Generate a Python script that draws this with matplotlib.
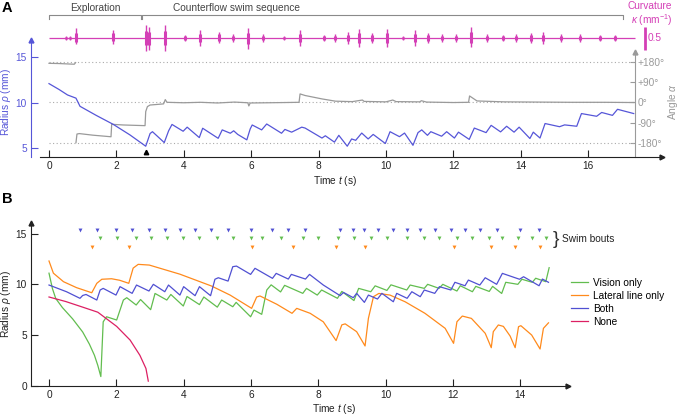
import numpy as np
import matplotlib
matplotlib.use('Agg')
import matplotlib.pyplot as plt

plt.rcParams['font.family'] = ['Liberation Sans', 'DejaVu Sans']
plt.rcParams['mathtext.fontset'] = 'custom'
plt.rcParams['mathtext.rm'] = 'Liberation Sans'
plt.rcParams['mathtext.it'] = 'Liberation Sans:italic'
plt.rcParams['mathtext.bf'] = 'Liberation Sans:bold'

# ---------------- DATA: panel A ----------------
A_t = [0, 0.3, 0.55, 0.8, 0.84, 0.92, 1.4, 1.91, 2.4, 2.87, 3.0, 3.07, 3.42, 3.55, 3.65, 3.98, 4.1,
       4.46, 4.56, 5.02, 5.14, 5.38, 5.48, 5.6, 5.87, 5.97, 6.03, 6.31, 6.46, 6.9, 7.0, 7.2, 7.5, 7.6,
       8.1, 8.2, 8.47, 8.6, 8.85, 8.98, 9.1, 9.28, 9.47, 9.62, 9.98, 10.12, 10.4, 10.55, 10.8, 10.95,
       11.06, 11.23, 11.33, 11.65, 11.8, 12.03, 12.15, 12.47, 12.62, 12.97, 13.12, 13.4, 13.58, 13.8,
       13.95, 14.27, 14.37, 14.57, 14.72, 15.15, 15.3, 15.66, 15.8, 16.25, 16.4, 16.72, 16.87, 17.35]
A_radius = [12.1, 11.45, 10.85, 10.5, 10.2, 9.6, 8.6, 7.6, 6.45, 5.2, 6.6, 6.8, 5.6, 6.9, 7.6, 6.85, 7.3,
            6.15, 7.18, 6.07, 7.0, 6.63, 6.9, 6.5, 5.9, 7.1, 7.54, 7.0, 7.65, 6.63, 7.05, 6.75, 7.3, 7.2,
            6.1, 6.35, 5.65, 6.4, 5.2, 6.0, 5.85, 6.65, 6.0, 6.5, 5.5, 6.8, 6.25, 6.65, 5.3, 6.7,
            7.0, 6.4, 6.8, 6.3, 6.8, 6.1, 6.75, 5.95, 7.2, 6.7, 7.5, 6.78, 7.4, 6.75,
            7.3, 6.05, 6.75, 6.1, 7.7, 7.35, 7.55, 7.4, 8.8, 8.5, 8.92, 8.6, 9.27, 8.8]

# angle alpha (deg); NaN marks the wrap from +180 to -180
ang_t = [0, 0.3, 0.6, 0.75, 0.79, 0.795, 0.8, 0.83, 0.9, 1.3, 1.84, 1.86, 2.2, 2.85, 2.87, 2.92, 3.0,
         3.4, 3.45, 3.5, 4.0, 4.5, 5.0, 5.5, 5.9, 5.93, 5.97, 6.5, 7.0, 7.42, 7.45, 7.6, 8.1, 8.5, 9.0,
         9.3, 9.35, 10.0, 10.2, 10.3, 11.0, 11.05, 11.2, 12.0, 12.45, 12.48, 12.7, 13.5, 14.5, 15.5,
         16.5, 17.36]
ang_deg = [172, 171, 169, 168, 175, np.nan, -178, -140, -138, -145, -152, -97, -100, -103, -41, -19, -12,
           -7, 12, 0, -2, 0, -3, 1, -2, -16, -3, -2, -1, 0, 37, 30, 15, 5, 3,
           10, 4, 2, 10, 3, 2, 7, 1, -1, 0, 28, 6, 2, 1, 0,
           0, -1]
ang_ticks = [-180, -90, 0, 90, 180]
ang_ticklabels = ['-180°', '-90°', '0°', '+90°', '+180°']

# curvature bursts (time, max, min) in mm^-1
burst_t = [0.5, 0.62, 0.8, 1.91, 2.87, 2.97, 3.44, 4.04, 4.48, 5.05, 5.47, 5.9, 6.36, 6.98, 7.45,
           8.17, 8.49, 8.88, 9.2, 9.58, 10.02, 10.5, 10.86, 11.24, 11.65, 12.07, 12.51, 13.0, 13.48,
           13.86, 14.29, 14.65, 15.19, 15.76, 16.35, 16.8]
burst_hi = [0.04, 0.05, 0.21, 0.18, 0.29, 0.25, 0.29, 0.07, 0.17, 0.14, 0.09, 0.21, 0.09, 0.05, 0.17,
            0.07, 0.08, 0.12, 0.2, 0.11, 0.2, 0.05, 0.17, 0.11, 0.08, 0.09, 0.23, 0.09, 0.07,
            0.08, 0.11, 0.12, 0.09, 0.09, 0.07, 0.07]
burst_lo = [-0.04, -0.04, -0.14, -0.13, -0.29, -0.26, -0.28, -0.07, -0.17, -0.11, -0.09, -0.24, -0.09,
            -0.05, -0.17, -0.07, -0.08, -0.12, -0.2, -0.11, -0.2, -0.05, -0.17, -0.11, -0.08, -0.09,
            -0.19, -0.09, -0.07, -0.08, -0.11, -0.12, -0.09, -0.09, -0.07, -0.07]
curv_span = (0, 17.4)
scale_bar_value = 0.5

phase_names = ['Exploration', 'Counterflow swim sequence']
phase_bounds = [(0, 2.72), (2.77, 17.02)]
phase_label_t = [1.39, 5.55]
min_marker_t = 2.87

# ---------------- DATA: panel B ----------------
vis_t = [0, 0.1, 0.2, 0.4, 0.7, 1.0, 1.2, 1.35, 1.45, 1.54, 1.61, 1.71, 2.01, 2.21, 2.31, 2.59, 2.72,
         3.02, 3.15, 3.5, 3.62, 3.99, 4.1, 4.47, 4.6, 5.0, 5.13, 5.46, 5.56, 5.99, 6.09, 6.32, 6.47, 6.6,
         6.88, 7.0, 7.54, 7.65, 7.97, 8.1, 8.57, 8.7, 9.06, 9.2, 9.56, 9.69, 10.04, 10.16, 10.63, 10.73,
         11.15, 11.25, 11.59, 11.7, 12.12, 12.22, 12.58, 12.68, 13.08, 13.18, 13.45, 13.57, 13.93, 14.05,
         14.36, 14.46, 14.76, 14.86]
vis_r = [11.1, 9.6, 8.6, 7.7, 6.6, 5.3, 4.1, 3.0, 2.0, 0.9, 6.3, 6.8, 6.48, 8.45, 8.68, 7.96, 8.5,
         7.5, 9.1, 8.45, 9.0, 7.86, 8.8, 8.0, 8.75, 7.75, 8.45, 7.79, 8.22, 6.8, 7.46, 7.04, 9.44, 9.95,
         9.25, 9.9, 9.11, 9.6, 8.94, 9.44, 8.62, 9.3, 8.4, 9.6, 9.27, 9.85, 9.4, 9.95, 9.44, 9.93,
         9.6, 10.0, 9.6, 10.0, 9.34, 9.86, 9.27, 9.8, 9.3, 9.8, 9.1, 10.2, 10.0, 10.5,
         10.2, 10.6, 10.26, 11.64]

lat_t = [0, 0.13, 0.43, 0.82, 1.27, 1.42, 1.57, 1.86, 2.1, 2.37, 2.5, 2.65, 2.98, 3.89, 4.83, 5.38, 6.02,
         6.17, 6.27, 6.77, 7.22, 7.36, 7.76, 8.15, 8.53, 8.7, 8.8, 9.14, 9.39, 9.49, 9.64, 9.8, 10.13,
         10.58, 11.17, 11.77, 12.02, 12.12, 12.28, 12.55, 12.96, 13.14, 13.2, 13.35, 13.5, 13.7, 13.85,
         13.95, 14.02, 14.34, 14.59, 14.69, 14.84]
lat_r = [12.3, 11.1, 10.26, 9.67, 9.17, 10.1, 10.5, 10.55, 10.4, 10.1, 11.6, 11.97, 11.9, 11.0, 9.83, 8.94, 7.63,
         8.75, 8.85, 8.03, 7.14, 7.63, 7.14, 6.3, 4.45, 6.0, 6.1, 5.33, 3.92, 6.65, 8.78, 9.1, 8.94,
         8.28, 7.14, 5.66, 4.18, 6.31, 6.87, 6.64, 5.17, 3.75, 5.33, 5.99, 5.85, 4.9, 3.75,
         5.82, 5.92, 5.0, 3.62, 5.66, 6.2]

both_t = [0, 0.52, 0.92, 1.0, 1.1, 1.42, 1.52, 1.61, 1.99, 2.11, 2.47, 2.6, 2.97, 3.1, 3.44, 3.55, 3.89,
          4.0, 4.34, 4.47, 4.8, 4.93, 5.03, 5.32, 5.46, 5.57, 5.99, 6.12, 6.64, 6.75, 7.11, 7.2, 7.62,
          7.74, 8.15, 8.65, 8.75, 9.04, 9.14, 9.37, 9.49, 9.76, 9.89, 10.23, 10.33, 10.64, 10.78, 11.03,
          11.15, 11.46, 11.6, 11.94, 12.06, 12.36, 12.46, 12.8, 12.96, 13.3, 13.47, 13.98, 14.1, 14.56,
          14.66, 14.84]
both_r = [9.93, 9.27, 8.62, 8.9, 9.0, 8.45, 9.44, 9.6, 8.94, 9.77, 9.11, 9.93, 9.34, 10.0, 9.27, 9.93, 8.94,
          9.77, 8.88, 9.77, 8.88, 10.5, 10.65, 10.32, 11.74, 11.8, 10.98, 11.58, 10.59, 11.08, 10.52, 10.98, 10.52,
          10.98, 9.93, 8.88, 9.2, 8.68, 9.11, 8.22, 8.94, 8.55, 9.11, 8.28, 9.11, 8.62, 9.27, 8.78,
          9.44, 9.11, 9.77, 9.44, 10.2, 9.86, 10.42, 9.93, 10.65, 10.0, 11.08, 10.5, 10.75, 9.86,
          10.52, 10.2]

none_t = [0, 0.5, 1.0, 1.45, 2.01, 2.41, 2.7, 2.88, 2.95]
none_r = [8.75, 8.3, 7.75, 7.25, 5.85, 4.5, 3.0, 1.7, 0.45]

bouts_both = [0.92, 1.42, 1.99, 2.47, 2.97, 3.44, 3.89, 4.34, 4.8, 5.32, 5.99, 6.64, 7.11, 7.62, 8.65,
              9.04, 9.37, 9.76, 10.23, 10.64, 11.03, 11.46, 11.94, 12.36, 12.8, 13.3, 13.98, 14.56]
bouts_vis = [1.52, 2.01, 2.59, 3.02, 3.5, 3.99, 4.47, 4.99, 5.46, 5.99, 6.32, 6.9, 7.55, 7.98, 8.58,
             9.06, 9.56, 10.04, 10.63, 11.15, 11.59, 12.12, 12.58, 13.08, 13.45, 13.93, 14.36, 14.76]
bouts_lat = [1.27, 2.37, 6.02, 7.24, 8.53, 9.39, 12.02, 13.14, 13.85, 14.59]

labels_B = ['Vision only', 'Lateral line only', 'Both', 'None']

# ---------------- STYLE ----------------
W, H = 680, 417
FS = 7.3
c_blueA = '#5656d8'
c_gray = '#9a9a9a'
c_mag = '#d43fb6'
c_green = '#62bd4f'
c_orange = '#ff8a1c'
c_blue = '#5050d2'
c_pink = '#dc2063'

fig = plt.figure(figsize=(6.8, 4.17), dpi=100)


def rect(x0, y0, x1, y1):
    return [x0 / W, 1 - y1 / H, (x1 - x0) / W, (y1 - y0) / H]


def px2t(x):
    return (x - 49) / 33.7

# ---------------- PANEL A ----------------
axA = fig.add_axes(rect(31, 40, 662, 157))
axA.set_xlim(px2t(31), px2t(662))
axA.set_ylim(4.01, 16.91)
axA.patch.set_alpha(0)
for s in ['top', 'right']:
    axA.spines[s].set_visible(False)
axA.spines['left'].set_color(c_blueA)
axA.spines['left'].set_linewidth(0.8)
axA.spines['bottom'].set_linewidth(0.8)
axA.spines['bottom'].set_color('#222222')
axA.spines['bottom'].set_bounds(px2t(40), px2t(662))
axA.set_xticks(range(0, 17, 2))
axA.set_yticks([5, 10, 15])
axA.tick_params(axis='x', direction='in', length=5, width=0.8, pad=3, labelsize=FS, colors='#222222')
axA.tick_params(axis='y', direction='in', length=5, width=0.8, pad=3, labelsize=FS,
                colors=c_blueA)
axA.plot([0], [1], marker='^', ms=3.5, color=c_blueA, transform=axA.transAxes, clip_on=False)
axA.plot([1], [0], marker='>', ms=3.5, color='#222222', transform=axA.transAxes, clip_on=False)

axAng = axA.twinx()
axAng.set_ylim(-241.3, 274.9)
for s in ['top', 'left', 'bottom']:
    axAng.spines[s].set_visible(False)
t_ang_axis = px2t(635)
axAng.spines['right'].set_position(('data', t_ang_axis))
axAng.spines['right'].set_bounds(-241.3, 221.9)
axAng.spines['right'].set_color(c_gray)
axAng.spines['right'].set_linewidth(0.8)
axAng.set_yticks(ang_ticks)
axAng.set_yticklabels(ang_ticklabels)
axAng.tick_params(axis='y', direction='in', length=3.5, width=0.8, pad=2, labelsize=FS,
                  colors=c_gray)
axAng.plot([t_ang_axis], [221.9], marker='^', ms=3.5, color=c_gray, clip_on=False)
axAng.hlines([180, 0, -180], 0, t_ang_axis, colors='#aaaaaa', linestyles=(0, (1, 2.2)), lw=0.8)
axAng.plot(ang_t, ang_deg, color=c_gray, lw=0.9)

axA.set_zorder(axAng.get_zorder() + 1)
axA.plot(A_t, A_radius, color=c_blueA, lw=0.9)
axA.plot([min_marker_t], [4.6], marker='^', ms=3.2, color='k', clip_on=False)

# curvature strip
axK = fig.add_axes(rect(31, 2, 662, 60))
axK.set_xlim(px2t(31), px2t(662))
kpp = 0.5 / 23.0
axK.set_ylim(-(60 - 38) * kpp, (38 - 2) * kpp)
axK.axis('off')
axK.hlines(0, curv_span[0], curv_span[1], color=c_mag, lw=0.9)
axK.vlines(burst_t, burst_lo, burst_hi, color=c_mag, lw=1.0)
axK.vlines(burst_t, np.array(burst_lo) * 0.55, np.array(burst_hi) * 0.55, color=c_mag, lw=2.2)
t_bar = px2t(645)
axK.vlines(t_bar, -scale_bar_value / 2, scale_bar_value / 2, color=c_mag, lw=2.0, clip_on=False)
axK.text(px2t(648), 0, '0.5', color=c_mag, fontsize=FS, ha='left', va='center', clip_on=False)
# phase brackets
yb = (38 - 15) * kpp
yb2 = (38 - 19) * kpp
for (a, b), name, lt in zip(phase_bounds, phase_names, phase_label_t):
    axK.plot([a, a, b, b], [yb2, yb, yb, yb2], color='#8a8a8a', lw=0.8, clip_on=False)
    axK.text(lt, (38 - 8) * kpp, name, color='#444444', fontsize=FS, ha='center', va='center')

fig.text(672 / W, 1 - 6 / H, 'Curvature', color=c_mag, fontsize=FS, ha='right', va='center')
fig.text(672 / W, 1 - 20 / H, r'$\kappa$ (mm$^{-1}$)', color=c_mag, fontsize=FS, ha='right', va='center')

fig.text(6 / W, 1 - 102 / H, r'Radius $\rho$ (mm)', color=c_blueA, fontsize=FS, rotation=90,
         ha='center', va='center')
fig.text(673 / W, 1 - 102 / H, r'Angle $\alpha$', color=c_gray, fontsize=FS, rotation=90,
         ha='center', va='center')
fig.text(335 / W, 1 - 181 / H, r'Time $t$ (s)', color='#222222', fontsize=FS, ha='center', va='center')
fig.text(2 / W, 1 - 1 / H, 'A', fontsize=10.5, fontweight='bold', ha='left', va='top')
fig.text(2 / W, 1 - 192 / H, 'B', fontsize=10.5, fontweight='bold', ha='left', va='top')

# ---------------- PANEL B ----------------
axB = fig.add_axes(rect(31, 223.3, 568, 385.7))
axB.set_xlim(-0.535, 15.42)
axB.set_ylim(0, 16.02)
axB.patch.set_alpha(0)
for s in ['top', 'right']:
    axB.spines[s].set_visible(False)
for s in ['left', 'bottom']:
    axB.spines[s].set_linewidth(0.8)
    axB.spines[s].set_color('#222222')
axB.set_xticks(range(0, 15, 2))
axB.set_yticks([0, 5, 10, 15])
axB.tick_params(direction='in', length=5, width=0.8, pad=3, labelsize=FS, colors='#222222')
axB.plot([0], [1], marker='^', ms=3.5, color='#222222', transform=axB.transAxes, clip_on=False)
axB.plot([1], [0], marker='>', ms=3.5, color='#222222', transform=axB.transAxes, clip_on=False)

lines = []
for tt, rr, col in [(vis_t, vis_r, c_green), (lat_t, lat_r, c_orange),
                    (both_t, both_r, c_blue), (none_t, none_r, c_pink)]:
    ln, = axB.plot(tt, rr, color=col, lw=0.9)
    lines.append(ln)
lines[3].set_zorder(3)

axB.plot(bouts_both, [15.35] * len(bouts_both), 'v', ms=2.8, color=c_blue, mec='none')
axB.plot(bouts_vis, [14.53] * len(bouts_vis), 'v', ms=2.8, color=c_green, mec='none')
axB.plot(bouts_lat, [13.7] * len(bouts_lat), 'v', ms=2.8, color=c_orange, mec='none')

fig.text(556 / W, 1 - 239.5 / H, '}', fontsize=14, color='#333333', ha='center', va='center')
fig.text(562 / W, 1 - 238.7 / H, 'Swim bouts', fontsize=FS, color='#222222', ha='left', va='center')

leg = fig.legend(lines, labels_B, loc='upper left', bbox_to_anchor=(571 / W, 1 - 277.5 / H),
                 frameon=False, fontsize=FS, handlelength=1.7, handletextpad=0.5,
                 labelspacing=0.3, borderpad=0, borderaxespad=0)

fig.text(6 / W, 1 - 304 / H, r'Radius $\rho$ (mm)', color='#222222', fontsize=FS, rotation=90,
         ha='center', va='center')
fig.text(334 / W, 1 - 409 / H, r'Time $t$ (s)', color='#222222', fontsize=FS, ha='center', va='center')

fig.savefig('out.png', dpi=100)
